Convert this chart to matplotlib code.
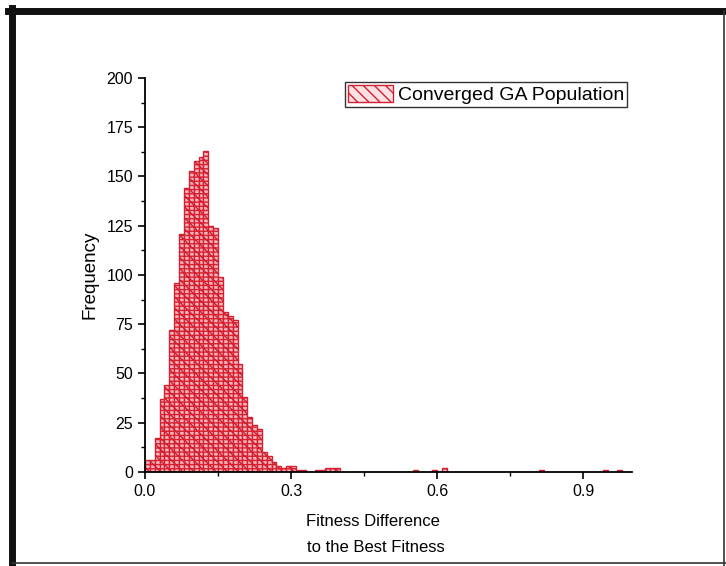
import numpy as np
import matplotlib
matplotlib.use("Agg")
import matplotlib.pyplot as plt
from matplotlib.lines import Line2D
from matplotlib.patches import Rectangle
from matplotlib.ticker import MultipleLocator

plt.rcParams["font.family"] = ["Liberation Sans", "DejaVu Sans"]
plt.rcParams["hatch.linewidth"] = 1.0

BIN_WIDTH = 0.01

# histogram counts per 0.01 bin
main_counts = [6, 6, 17, 37, 44, 72, 96, 121, 144, 153, 158, 160, 163,
               125, 124, 99, 81, 79, 77, 55, 38, 28, 24, 22, 10, 8, 5, 3,
               2, 3, 3, 1, 1, 0, 0, 1, 1, 2, 2, 2]
tail_bins = [55, 59, 61, 81, 94, 97]
tail_counts = [1, 1, 2, 1, 1, 1]

counts = np.zeros(100)
counts[:len(main_counts)] = main_counts
counts[tail_bins] = tail_counts
bin_left = np.arange(100) * BIN_WIDTH

x_ticks = [0.0, 0.3, 0.6, 0.9]
y_ticks = [0, 25, 50, 75, 100, 125, 150, 175, 200]

red = "#d42030"
pink = "#f4b4bb"

fig = plt.figure(figsize=(7.26, 5.66), dpi=100)
ax = fig.add_axes([0.1997, 0.1661, 0.6708, 0.6961])

mask = counts > 0
ax.bar(bin_left[mask], counts[mask], width=BIN_WIDTH, align="edge",
       color=pink, edgecolor=red, linewidth=1.0, hatch="\\\\\\----")

ax.set_xlim(0, 1.0)
ax.set_ylim(0, 200)
ax.set_xticks(x_ticks)
ax.set_xticklabels([f"{t:.1f}" for t in x_ticks])
ax.set_yticks(y_ticks)
ax.xaxis.set_minor_locator(MultipleLocator(0.15))
ax.yaxis.set_minor_locator(MultipleLocator(12.5))
ax.tick_params(which="major", direction="out", length=5, width=1.2,
               labelsize=11.5)
ax.tick_params(which="minor", direction="out", length=3, width=1.0)
for side in ["top", "right"]:
    ax.spines[side].set_visible(False)
for side in ["left", "bottom"]:
    ax.spines[side].set_linewidth(1.3)

ax.set_ylabel("Frequency", fontsize=13.5, labelpad=6)
fig.text(373 / 726, 1 - 522 / 566, "Fitness Difference", fontsize=12,
         ha="center", va="center")
fig.text(376 / 726, 1 - 548 / 566, "to the Best Fitness", fontsize=12,
         ha="center", va="center")

handle = Rectangle((0, 0), 1, 1, facecolor="#fbe0e4", edgecolor=red,
                   linewidth=1.0, hatch="\\\\\\")
leg = ax.legend([handle], ["Converged GA Population"], loc="upper right",
                bbox_to_anchor=(0.99, 0.99), fontsize=14, frameon=True,
                fancybox=False, edgecolor="black", handlelength=2.3,
                handleheight=0.95, borderpad=0.15, handletextpad=0.25,
                borderaxespad=0)
leg.get_frame().set_linewidth(1.0)

# scanned page frame
fig.add_artist(Line2D([0.011, 1.0], [0.980, 0.980], color="#111111",
                      linewidth=5, transform=fig.transFigure))
fig.add_artist(Line2D([0.016, 0.016], [0.0, 0.985], color="#111111",
                      linewidth=5, transform=fig.transFigure))
fig.add_artist(Line2D([0.997, 0.997], [0.0, 0.98], color="#333333",
                      linewidth=1.2, transform=fig.transFigure))
fig.add_artist(Line2D([0.016, 1.0], [0.006, 0.006], color="#333333",
                      linewidth=1.2, transform=fig.transFigure))

fig.savefig("out.png", dpi=100)
